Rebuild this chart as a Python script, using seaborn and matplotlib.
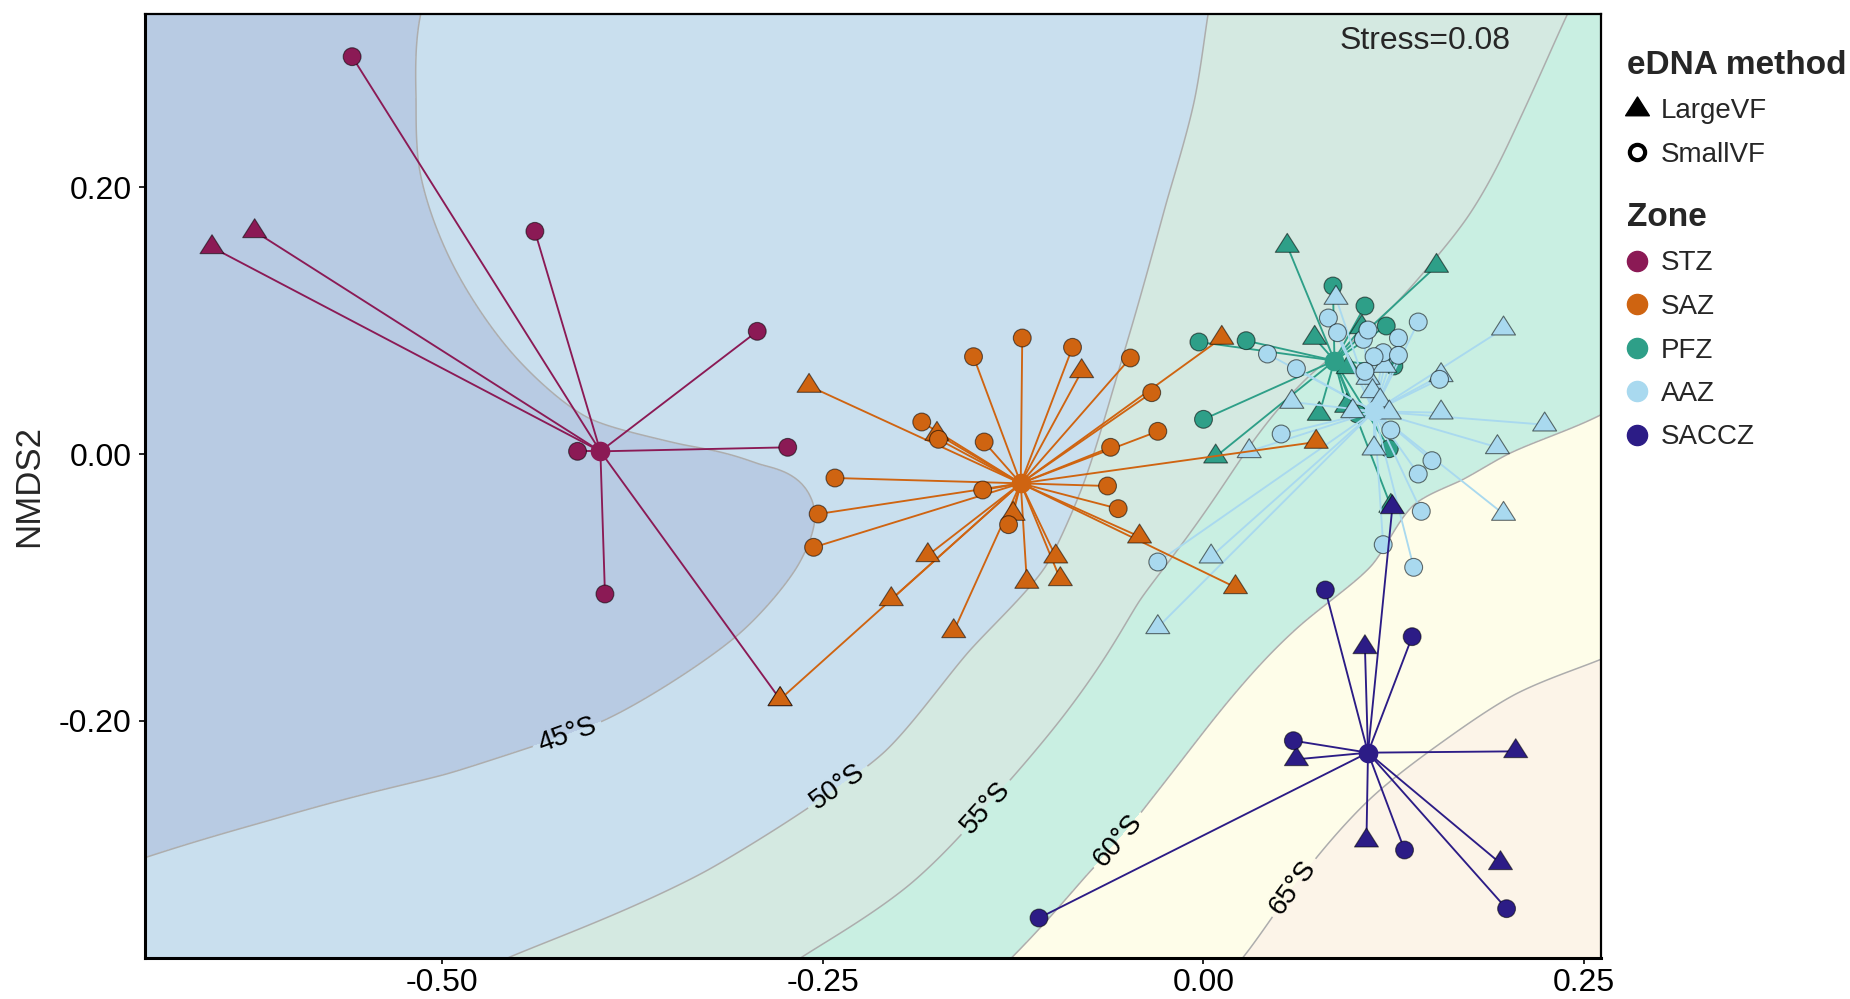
import numpy as np
import pandas as pd
import matplotlib
matplotlib.use("Agg")
import matplotlib.pyplot as plt
from matplotlib.path import Path
from matplotlib.lines import Line2D
from matplotlib.collections import LineCollection
import seaborn as sns

# ---------------------------------------------------------------- data
ZONES = ["STZ", "SAZ", "PFZ", "AAZ", "SACCZ"]
ZONE_COLORS = ["#8b1a55", "#cf6411", "#2e9f88", "#a9d9ef", "#2c1c86"]

# NMDS site scores (NMDS1, NMDS2); LargeVF = triangles, SmallVF = circles
stz_large = [(-0.623, 0.167), (-0.651, 0.155), (-0.278, -0.184)]
stz_small = [(-0.559, 0.298), (-0.439, 0.167), (-0.293, 0.092), (-0.411, 0.002),
             (-0.273, 0.005), (-0.393, -0.105)]

saz_large = [(-0.259, 0.051), (-0.175, 0.015), (-0.080, 0.062), (-0.125, -0.045),
             (-0.042, -0.062), (-0.181, -0.076), (-0.205, -0.109), (-0.164, -0.133),
             (-0.116, -0.096), (-0.097, -0.077), (-0.094, -0.094), (0.021, -0.100),
             (0.012, 0.087), (0.074, 0.009), (-0.278, -0.184)]
saz_small = [(-0.185, 0.024), (-0.174, 0.011), (-0.151, 0.073), (-0.119, 0.087),
             (-0.086, 0.080), (-0.048, 0.072), (-0.034, 0.046), (-0.030, 0.017),
             (-0.061, 0.005), (-0.144, 0.009), (-0.242, -0.018), (-0.145, -0.027),
             (-0.253, -0.045), (-0.256, -0.070), (-0.128, -0.053), (-0.063, -0.024),
             (-0.056, -0.041)]

pfz_large = [(0.055, 0.156), (0.153, 0.141), (0.073, 0.087), (0.095, 0.065),
             (0.076, 0.030), (0.094, 0.036), (0.008, -0.002), (0.104, 0.095),
             (0.123, -0.039)]
pfz_small = [(0.085, 0.126), (0.106, 0.111), (0.120, 0.096), (0.125, 0.066),
             (0.101, 0.030), (0.122, 0.004), (0.028, 0.085), (-0.003, 0.084),
             (0.000, 0.026)]

aaz_large = [(0.087, 0.117), (0.119, 0.066), (0.108, 0.057), (0.111, 0.047),
             (0.116, 0.040), (0.122, 0.031), (0.098, 0.032), (0.058, 0.039),
             (0.030, 0.002), (0.112, 0.004), (0.156, 0.059), (0.156, 0.031),
             (0.197, 0.094), (0.224, 0.022), (0.193, 0.005), (0.197, -0.045),
             (-0.030, -0.130), (0.005, -0.077)]
aaz_small = [(0.082, 0.102), (0.088, 0.091), (0.105, 0.086), (0.108, 0.093),
             (0.141, 0.099), (0.128, 0.087), (0.118, 0.076), (0.128, 0.074),
             (0.112, 0.073), (0.106, 0.062), (0.042, 0.075), (0.061, 0.064),
             (0.051, 0.015), (0.123, 0.018), (0.150, -0.005), (0.141, -0.015),
             (0.143, -0.043), (0.118, -0.068), (0.138, -0.085), (-0.030, -0.081),
             (0.155, 0.056)]

saccz_large = [(0.124, -0.040), (0.106, -0.145), (0.061, -0.229), (0.205, -0.223),
               (0.107, -0.290), (0.195, -0.307)]
saccz_small = [(0.080, -0.102), (0.137, -0.137), (0.059, -0.215), (0.132, -0.297),
               (0.199, -0.341), (-0.108, -0.348)]

# zone centroids (NMDS1, NMDS2)
centroid_x = [-0.396, -0.120, 0.086, 0.112, 0.108]
centroid_y = [0.002, -0.022, 0.070, 0.032, -0.224]

# latitude isolines of the fitted surface (degrees South)
lat_levels = [45, 50, 55, 60, 65]
iso45_x = [-0.514, -0.517, -0.515, -0.492, -0.455, -0.404, -0.342, -0.291, -0.259,
           -0.255, -0.267, -0.305, -0.394, -0.497, -0.614, -0.693]
iso45_y = [0.330, 0.265, 0.215, 0.140, 0.077, 0.027, 0.007, -0.008, -0.030,
           -0.048, -0.085, -0.135, -0.200, -0.240, -0.275, -0.302]
iso50_x = [0.003, -0.006, -0.024, -0.046, -0.079, -0.104, -0.154, -0.209, -0.240,
           -0.327, -0.459]
iso50_y = [0.330, 0.265, 0.190, 0.100, -0.023, -0.085, -0.148, -0.223, -0.250,
           -0.313, -0.379]
iso55_x = [0.239, 0.206, 0.173, 0.151, 0.112, 0.068, 0.031, -0.042, -0.093,
           -0.143, -0.193, -0.266]
iso55_y = [0.330, 0.247, 0.177, 0.145, 0.097, 0.057, 0.007, -0.110, -0.198,
           -0.265, -0.323, -0.379]
iso60_x = [0.262, 0.200, 0.169, 0.138, 0.111, 0.064, 0.024, -0.035, -0.056,
           -0.076, -0.127]
iso60_y = [0.030, 0.000, -0.020, -0.038, -0.083, -0.128, -0.175, -0.260, -0.290,
           -0.315, -0.379]
iso65_x = [0.261, 0.205, 0.158, 0.110, 0.059, 0.025]
iso65_y = [-0.154, -0.180, -0.215, -0.258, -0.325, -0.379]

BAND_COLORS = ["#b8cbe3", "#c9dfee", "#d4e9e1", "#c9efe2", "#fefde9", "#fcf4e8"]
label_spots = [(-0.418, -0.210), (-0.240, -0.250), (-0.143, -0.265),
               (-0.056, -0.290), (0.059, -0.325)]

XLIM = (-0.695, 0.261)
YLIM = (-0.378, 0.330)

# ---------------------------------------------------------------- table
rows = []
groups = {
    "STZ": (stz_large, stz_small), "SAZ": (saz_large, saz_small),
    "PFZ": (pfz_large, pfz_small), "AAZ": (aaz_large, aaz_small),
    "SACCZ": (saccz_large, saccz_small),
}
for zone, (large, small) in groups.items():
    for x, y in large:
        rows.append((zone, "LargeVF", x, y))
    for x, y in small:
        rows.append((zone, "SmallVF", x, y))
df = pd.DataFrame(rows, columns=["zone", "method", "NMDS1", "NMDS2"])
cent = pd.DataFrame({"zone": ZONES, "cx": centroid_x, "cy": centroid_y})
df = df.merge(cent, on="zone")


# ---------------------------------------------------------------- surface
def thin_plate_surface(px, py, pv, gx, gy, lam=1e-4):
    """Smooth thin-plate spline through the latitude isolines."""
    sx, sy = 1.523, 1.333
    px, py = np.asarray(px) * sx, np.asarray(py) * sy
    n = len(px)
    d = np.hypot(px[:, None] - px[None, :], py[:, None] - py[None, :])
    with np.errstate(divide="ignore", invalid="ignore"):
        K = np.where(d > 0, d ** 2 * np.log(d), 0.0)
    A = np.zeros((n + 3, n + 3))
    A[:n, :n] = K + lam * np.eye(n)
    A[:n, n] = 1.0
    A[:n, n + 1] = px
    A[:n, n + 2] = py
    A[n:, :n] = A[:n, n:].T
    b = np.concatenate([pv, np.zeros(3)])
    coef = np.linalg.solve(A, b)
    w, a = coef[:n], coef[n:]
    qx, qy = gx.ravel() * sx, gy.ravel() * sy
    dq = np.hypot(qx[:, None] - px[None, :], qy[:, None] - py[None, :])
    with np.errstate(divide="ignore", invalid="ignore"):
        Kq = np.where(dq > 0, dq ** 2 * np.log(dq), 0.0)
    z = Kq @ w + a[0] + a[1] * qx + a[2] * qy
    return z.reshape(gx.shape)


iso_x = [iso45_x, iso50_x, iso55_x, iso60_x, iso65_x]
iso_y = [iso45_y, iso50_y, iso55_y, iso60_y, iso65_y]
ax_pts = np.concatenate(iso_x)
ay_pts = np.concatenate(iso_y)
av_pts = np.concatenate([[lv] * len(xs) for lv, xs in zip(lat_levels, iso_x)]).astype(float)

gx, gy = np.meshgrid(np.linspace(XLIM[0], XLIM[1], 420),
                     np.linspace(YLIM[0], YLIM[1], 320))
lat = thin_plate_surface(ax_pts, ay_pts, av_pts, gx, gy)

# ---------------------------------------------------------------- figure
sns.set_theme(style="white")
plt.rcParams["font.family"] = ["Liberation Sans", "DejaVu Sans"]

fig = plt.figure(figsize=(18.5, 9.99), dpi=100)
ax = fig.add_axes([145 / 1850, 1 - 958 / 999, (1601 - 145) / 1850, (958 - 14) / 999])

ax.contourf(gx, gy, lat, levels=[-1e6] + lat_levels + [1e6], colors=BAND_COLORS,
            zorder=0)
cs = ax.contour(gx, gy, lat, levels=lat_levels, colors="#adadad", linewidths=1.1,
                zorder=0.5)
ax.clabel(cs, fmt={lv: f"{lv}°S" for lv in lat_levels}, manual=label_spots,
          inline=True, inline_spacing=6, fontsize=20, colors="black")

tri = Path([(0.0, 1.0), (-0.95, -0.5), (0.95, -0.5), (0.0, 1.0)],
           [Path.MOVETO, Path.LINETO, Path.LINETO, Path.CLOSEPOLY])
color_of = dict(zip(ZONES, ZONE_COLORS))

draw_order = ["STZ", "PFZ", "AAZ", "SAZ", "SACCZ"]
for i, zone in enumerate(draw_order):
    sub = df[df["zone"] == zone]
    segs = [[(r.cx, r.cy), (r.NMDS1, r.NMDS2)] for r in sub.itertuples()]
    ax.add_collection(LineCollection(segs, colors=color_of[zone], linewidths=1.35,
                                     zorder=3 + 3 * i))
    sns.scatterplot(data=sub, x="NMDS1", y="NMDS2", style="method", size="method",
                    markers={"LargeVF": tri, "SmallVF": "o"},
                    sizes={"LargeVF": 330, "SmallVF": 165},
                    color=color_of[zone], edgecolor=(0, 0, 0, 0.55), linewidth=0.8,
                    legend=False, ax=ax, zorder=4 + 3 * i)
    c = cent[cent["zone"] == zone]
    ax.scatter(c["cx"], c["cy"], s=200, color=color_of[zone], linewidths=0,
               zorder=5 + 3 * i)

ax.text(0.1454, 0.310, "Stress=0.08", ha="center", va="center", fontsize=23,
        zorder=30)

ax.set_xlim(*XLIM)
ax.set_ylim(*YLIM)
ax.set_xticks([-0.50, -0.25, 0.00, 0.25])
ax.set_yticks([-0.20, 0.00, 0.20])
ax.xaxis.set_major_formatter(plt.FormatStrFormatter("%.2f"))
ax.yaxis.set_major_formatter(plt.FormatStrFormatter("%.2f"))
ax.tick_params(axis="both", direction="out", length=4.5, width=1.2, colors="black",
               labelsize=23, left=True, bottom=True)
ax.tick_params(axis="x", pad=3)
ax.tick_params(axis="y", pad=5)
ax.set_xlabel("")
ax.set_ylabel("NMDS2", fontsize=25, labelpad=10)
for side in ["left", "bottom"]:
    ax.spines[side].set_linewidth(2.2)
for side in ["top", "right"]:
    ax.spines[side].set_linewidth(1.6)
for sp in ax.spines.values():
    sp.set_color("black")
    sp.set_visible(True)
    sp.set_zorder(40)

# ---------------------------------------------------------------- legends
method_handles = [
    Line2D([], [], marker=tri, linestyle="", color="black", markersize=18,
           label="LargeVF"),
    Line2D([], [], marker="o", linestyle="", markerfacecolor="none",
           markeredgecolor="black", markeredgewidth=3, markersize=11,
           label="SmallVF"),
]
zone_handles = [Line2D([], [], marker="o", linestyle="", color=c, markersize=14.5,
                       label=z) for z, c in zip(ZONES, ZONE_COLORS)]

common = dict(loc="upper left", frameon=False, fontsize=20, borderpad=0,
              borderaxespad=0, handlelength=0.7, handletextpad=0.52,
              labelspacing=0.63, alignment="left",
              title_fontproperties={"weight": "bold", "size": 24})
fig.legend(handles=method_handles, title="eDNA method",
           bbox_to_anchor=(1627 / 1850, 1 - 50 / 999), **common)
fig.legend(handles=zone_handles, title="Zone",
           bbox_to_anchor=(1627 / 1850, 1 - 202 / 999), **common)

fig.savefig("out.png", dpi=100)
